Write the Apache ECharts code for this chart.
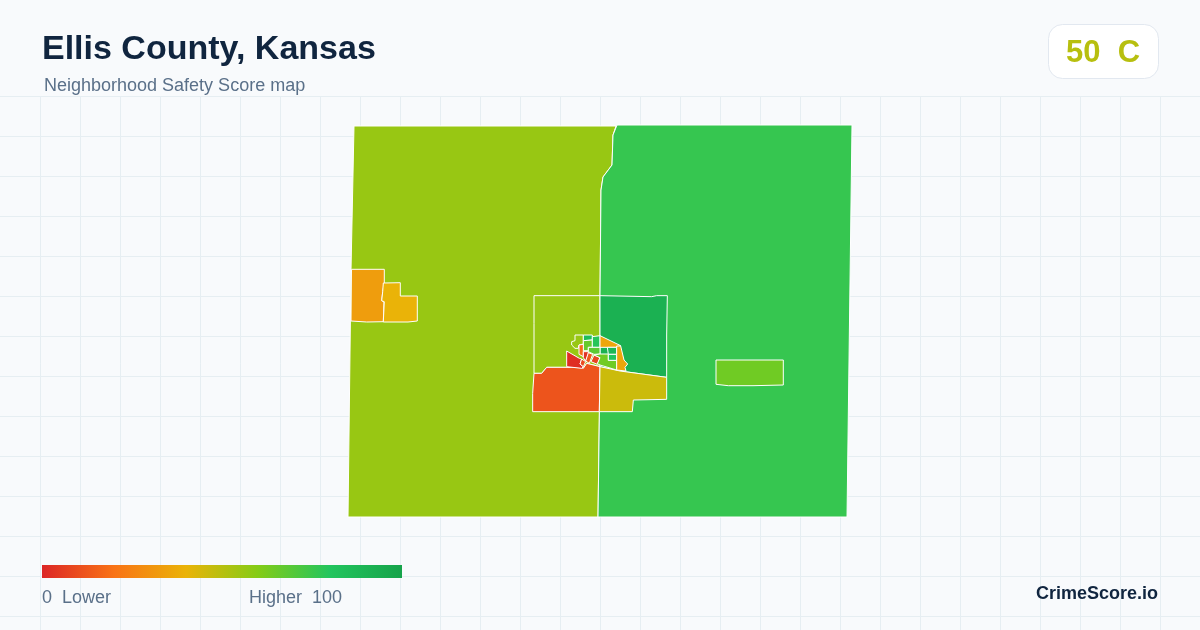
<!DOCTYPE html>
<html><head><meta charset="utf-8">
<style>html,body{margin:0;padding:0;background:#f8fafc}#c{width:1200px;height:630px}</style>
<script src="https://cdn.jsdelivr.net/npm/echarts@6/dist/echarts.min.js"></script>
</head><body><div id="c"></div>
<script>
const titleText = "Ellis County, Kansas";
const subtitleText = "Neighborhood Safety Score map";
const badgeScore = 50, badgeGrade = "C";
const legendStops = ["#dc2626","#f97316","#eab308","#84cc16","#22c55e","#16a34a"];
const tractNames = ["West rural","East rural","Ellis west","Ellis east","Victoria","Central north-west","Central north-east","Central south-west","Central south-east",
 "Hays NW","Hays N1","Hays N2","Hays N3","Hays NE","Hays W1","Hays SW1","Hays SW2","Hays SW3","Hays SW4","Hays SW5","Hays C","Hays C1","Hays E1","Hays E2","Hays SE"];
const tractScores = [56,76,33,40,64,56,92,12,46, 56,85,66,79,36,18,2,3,10,13,8,68,64,88,80,36];
// Region outlines, in map units
const c = pts => pts.map(([x,y]) => [520+x/3, 285+y/3]);
const tractRings = [
 [[354,126],[616,126],[613,135],[612,165],[603,177],[601,190],[600,295],[600,367],[598,517],[348,517],[351,270]],
 [[617,125],[852,125],[847,517],[598,517],[600,367],[600,295],[601,190],[603,177],[612,165],[613,135]],
 [[351.5,269.3],[384.3,269.3],[384.3,283],[382.7,291.7],[381.7,300.7],[384,302],[383.3,321.7],[366.7,322],[351,321]],
 [[383.3,283],[400.3,282.7],[400.3,296],[417.3,296],[417.3,321],[408,322],[383.3,322],[384.3,301.7],[381.7,300.7],[382.7,291.7]],
 [[716,360],[783.3,360],[783.3,385],[753,385.7],[728.3,385.7],[716,384.3]],
 c([[42,32],[240,32],[240,245],[200,235],[190,250],[180,247],[80,247],[65,265],[42,265],[42,115]]),
 c([[240,32],[395,35],[410,32],[442,32],[440,150],[440,277],[300,258],[240,245]]),
 c([[42,265],[65,265],[80,247],[180,247],[190,250],[200,235],[240,245],[238,380],[38,380],[38,325]]),
 c([[240,245],[300,258],[440,277],[440,343],[340,345],[337,380],[238,380]]),
 c([[165,150],[190,150],[190,177],[177,180],[175,190],[165,190],[155,180],[155,170],[165,167]]),
 c([[190,150],[217,150],[217,165],[190,167]]),
 c([[190,167],[217,165],[217,187],[205,187],[205,197],[190,197]]),
 c([[217,155],[240,152],[240,187],[217,187]]),
 c([[240,152],[302,182],[290,187],[262,187],[240,187]]),
 c([[177,180],[190,178],[190,215],[177,208]]),
 c([[140,198],[178,220],[185,222],[180,237],[190,245],[185,250],[140,245]]),
 c([[190,200],[205,200],[205,208],[197,228],[190,218]]),
 c([[185,222],[197,230],[190,245],[180,237]]),
 c([[205,203],[218,208],[208,235],[197,228]]),
 c([[222,210],[240,218],[232,238],[213,230]]),
 c([[205,187],[240,187],[240,207],[222,208],[205,200]]),
 c([[240,207],[265,207],[265,226],[290,226],[290,255],[240,240],[232,236],[240,218],[222,210]]),
 c([[262,187],[290,187],[290,208],[265,208]]),
 c([[265,208],[290,208],[290,226],[265,226]]),
 c([[290,183],[302,183],[312,225],[323,237],[315,247],[318,258],[290,255]])
];
// Background grid and header text
const gridStep = 40, gridTop = 96.5;
const gridLines = [];
for (let x = 40.5; x < 1200; x += gridStep) gridLines.push({type:"line",silent:true,shape:{x1:x,y1:gridTop,x2:x,y2:630},style:{stroke:"#e6eef2",lineWidth:1}});
for (let y = gridTop; y < 630; y += gridStep) gridLines.push({type:"line",silent:true,shape:{x1:0,y1:y,x2:1200,y2:y},style:{stroke:"#e6eef2",lineWidth:1}});
const font = '"Liberation Sans", Arial, sans-serif';
const T = (x,y,text,size,weight,fill,align) => ({type:"text",x,y,style:{text,font:`${weight} ${size}px ${font}`,fill,textAlign:align||"left",textVerticalAlign:"top"}});
echarts.registerMap("ellis",{type:"FeatureCollection",features:tractNames.map((name,i)=>({type:"Feature",properties:{name},geometry:{type:"Polygon",coordinates:[tractRings[i].map(([x,y])=>[x,-y])]}}))});
const chart = echarts.init(document.getElementById("c"),null,{renderer:"canvas"});
chart.setOption({
 backgroundColor:"#f8fafc",animation:false,
 visualMap:{type:"continuous",min:0,max:100,show:false,inRange:{color:legendStops},seriesIndex:0},
 series:[{type:"map",map:"ellis",silent:true,aspectScale:1,left:348,top:125,width:504,height:392,roam:false,selectedMode:false,
   label:{show:false},emphasis:{disabled:true},
   itemStyle:{borderColor:"#ffffff",borderWidth:1,areaColor:"#ccc"},
   data:tractNames.map((name,i)=>({name,value:tractScores[i]}))}],
 graphic:[...gridLines,
   T(42,33,titleText,34,"bold","#10253f"),
   T(44,77,subtitleText,18,"normal","#5a7089"),
   {type:"rect",shape:{x:1048.5,y:24.5,width:110,height:54,r:14},style:{fill:"#ffffff",stroke:"#e2e8f0",lineWidth:1}},
   T(1103,38,badgeScore+"  "+badgeGrade,31,"bold","#b7bf0f","center"),
   {type:"rect",shape:{x:42,y:565,width:360,height:13},style:{fill:new echarts.graphic.LinearGradient(0,0,1,0,legendStops.map((color,i)=>({offset:i/(legendStops.length-1),color})))}},
   T(42,589,"0  Lower",18,"normal","#5a7089"),
   T(249,589,"Higher  100",18,"normal","#5a7089"),
   T(1158,585,"CrimeScore.io",18,"bold","#10253f","right")
 ]
});
</script></body></html>
